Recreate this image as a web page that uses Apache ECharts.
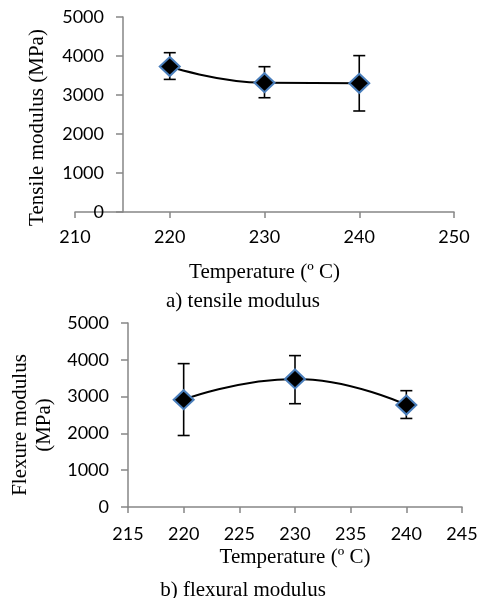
<!DOCTYPE html>
<html>
<head>
<meta charset="utf-8">
<script src="https://cdn.jsdelivr.net/npm/echarts@6/dist/echarts.min.js"></script>
<style>
  html, body { margin: 0; padding: 0; background: #fff; }
  #chart { width: 486px; height: 598px; }
</style>
</head>
<body>
<div id="chart"></div>
<script>
// temperatures (°C)
var temps = [220, 230, 240];
// tensile modulus (MPa) and error bar ends
var tensile = [3730, 3315, 3300];
var tensileLow = [3400, 2930, 2590];
var tensileHigh = [4085, 3726, 4010];
// flexural modulus (MPa) and error bar ends
var flexure = [2916, 3480, 2771];
var flexureLow = [1943, 2807, 2406];
var flexureHigh = [3896, 4114, 3161];

var axisGray = "#868686";
var serif = "Liberation Serif";
var sans = "Lato";

function pairs(xs, ys) {
  return xs.map(function (x, i) { return [x, ys[i]]; });
}
function errRows(xs, lo, hi) {
  return xs.map(function (x, i) { return [x, lo[i], hi[i]]; });
}

function errorBar(params, api) {
  var x = api.value(0);
  var lo = api.coord([x, api.value(1)]);
  var hi = api.coord([x, api.value(2)]);
  var cap = 6;
  var style = { stroke: "#000", lineWidth: 1.6 };
  return {
    type: "group",
    children: [
      { type: "line", shape: { x1: lo[0], y1: lo[1], x2: hi[0], y2: hi[1] }, style: style },
      { type: "line", shape: { x1: lo[0] - cap, y1: lo[1], x2: lo[0] + cap, y2: lo[1] }, style: style },
      { type: "line", shape: { x1: hi[0] - cap, y1: hi[1], x2: hi[0] + cap, y2: hi[1] }, style: style },
    ],
  };
}

function plain(v) {
  return String(v);
}

function valueAxisY(idx, name, nameGap, offset, namePad) {
  return {
    gridIndex: idx,
    type: "value",
    min: 0,
    max: 5000,
    interval: 1000,
    offset: offset,
    name: name,
    nameLocation: "middle",
    nameGap: nameGap,
    nameTextStyle: { fontFamily: serif, fontSize: 21, color: "#000", lineHeight: 24, padding: namePad },
    axisLine: { show: true, lineStyle: { color: axisGray, width: 1.5 } },
    axisTick: { show: true, length: 7, lineStyle: { color: axisGray, width: 1.5 } },
    axisLabel: { fontFamily: sans, fontSize: 18, color: "#000", margin: 19, formatter: plain },
    splitLine: { show: false },
  };
}

function valueAxisX(idx, min, max, step, nameGap, margin) {
  return {
    gridIndex: idx,
    type: "value",
    min: min,
    max: max,
    interval: step,
    name: "Temperature (º C)",
    nameLocation: "middle",
    nameGap: nameGap,
    nameTextStyle: { fontFamily: serif, fontSize: 21, color: "#000" },
    axisLine: { show: true, lineStyle: { color: axisGray, width: 1.5 } },
    axisTick: { show: true, length: 6, lineStyle: { color: axisGray, width: 1.5 } },
    axisLabel: { fontFamily: sans, fontSize: 18, color: "#000", margin: margin, formatter: plain },
    splitLine: { show: false },
  };
}

var marker = {
  color: "#000",
  borderColor: "#4A7EBB",
  borderWidth: 2,
  opacity: 1,
};

var chart = echarts.init(document.getElementById("chart"));
chart.setOption({
  animation: false,
  backgroundColor: "#fff",
  title: [
    {
      text: "a) tensile modulus",
      left: 238, top: 286, textAlign: "center",
      textStyle: { fontFamily: serif, fontSize: 21, fontWeight: "normal", color: "#000" },
    },
    {
      text: "b) flexural modulus",
      left: 238, top: 575, textAlign: "center",
      textStyle: { fontFamily: serif, fontSize: 21, fontWeight: "normal", color: "#000" },
    },
  ],
  grid: [
    { left: 75, right: 32, top: 17, height: 195 },
    { left: 128, right: 24, top: 323, height: 184 },
  ],
  xAxis: [valueAxisX(0, 210, 250, 10, 50, 16), valueAxisX(1, 215, 245, 5, 40, 18)],
  yAxis: [
    valueAxisY(0, "Tensile modulus (MPa)", 74, -48, [0, 26, 0, 0]),
    valueAxisY(1, "Flexure modulus\n(MPa)", 70, 0, [0, 20, 0, 0]),
  ],
  series: [
    {
      type: "line",
      xAxisIndex: 0, yAxisIndex: 0,
      data: pairs(temps, tensile),
      smooth: true,
      showSymbol: false,
      lineStyle: { color: "#000", width: 2 },
      z: 2,
    },
    {
      type: "custom",
      xAxisIndex: 0, yAxisIndex: 0,
      data: errRows(temps, tensileLow, tensileHigh),
      renderItem: errorBar,
      z: 3,
    },
    {
      type: "scatter",
      xAxisIndex: 0, yAxisIndex: 0,
      data: pairs(temps, tensile),
      symbol: "diamond",
      symbolSize: [20, 19],
      itemStyle: marker,
      z: 4,
    },
    {
      type: "line",
      xAxisIndex: 1, yAxisIndex: 1,
      data: pairs(temps, flexure),
      smooth: true,
      showSymbol: false,
      lineStyle: { color: "#000", width: 2 },
      z: 2,
    },
    {
      type: "custom",
      xAxisIndex: 1, yAxisIndex: 1,
      data: errRows(temps, flexureLow, flexureHigh),
      renderItem: errorBar,
      z: 3,
    },
    {
      type: "scatter",
      xAxisIndex: 1, yAxisIndex: 1,
      data: pairs(temps, flexure),
      symbol: "diamond",
      symbolSize: [20, 19],
      itemStyle: marker,
      z: 4,
    },
  ],
});
</script>
</body>
</html>
